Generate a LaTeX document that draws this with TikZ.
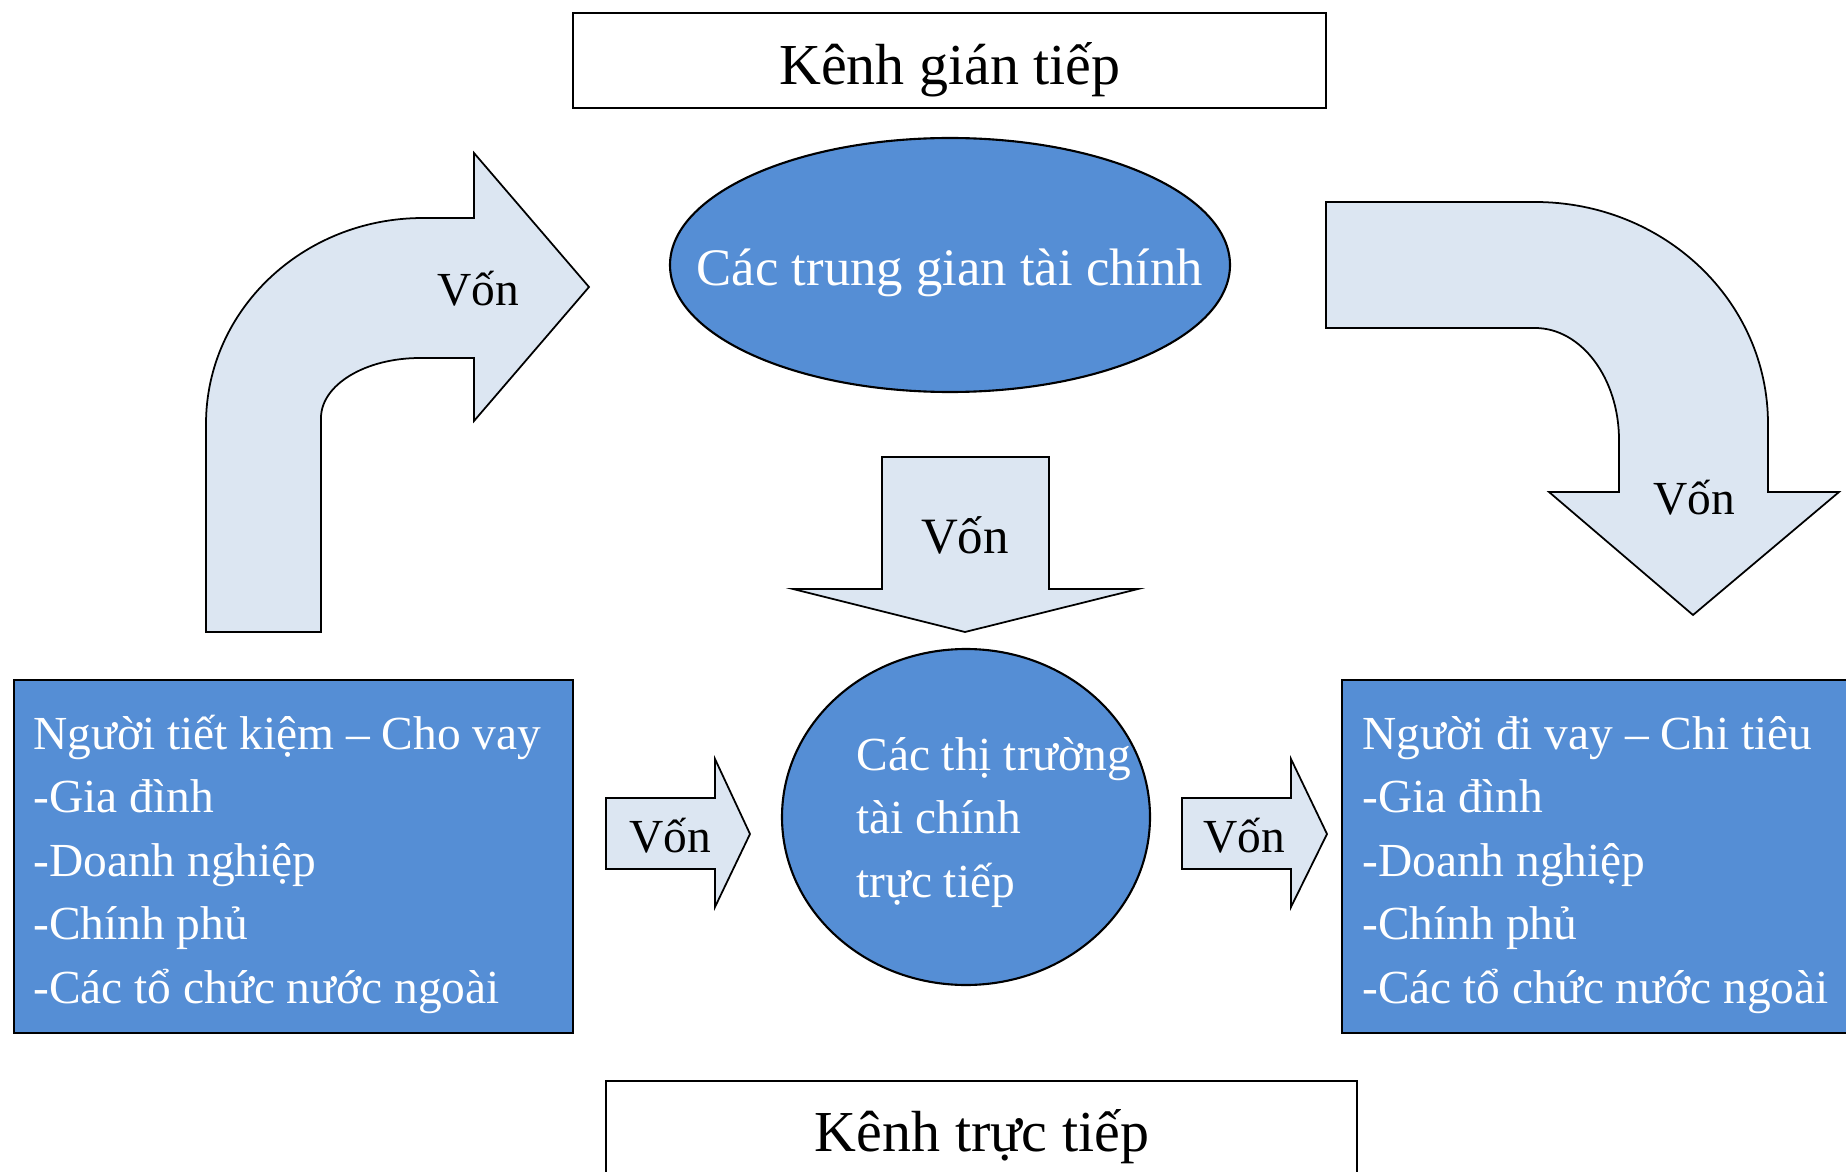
\documentclass[tikz,border=0pt]{standalone}
\usepackage{fontspec}
\setmainfont{Liberation Serif}

\definecolor{midblue}{RGB}{85,142,213}
\definecolor{paleblue}{RGB}{220,230,242}

\def\bendup{(206,632) -- (206,424) .. controls (206,310) and (303,218) .. (423,218) -- (474,218) -- (474,153) -- (589,287) -- (474,421) -- (474,358) -- (420,358) .. controls (365,358) and (321,385) .. (321,418) -- (321,632) -- cycle}
\def\benddown{(1326,202) -- (1535,202) .. controls (1664,202) and (1768,301) .. (1768,424) -- (1768,492) -- (1839,492) -- (1693,615) -- (1549,492) -- (1619,492) -- (1619,440) .. controls (1619,378) and (1581,328) .. (1535,328) -- (1326,328) -- cycle}
\def\midarrow{(882,457) -- (1049,457) -- (1049,589) -- (1138,589) -- (965,632) -- (793,589) -- (882,589) -- cycle}
\def\smallarrowA{(606,798) -- (715,798) -- (715,759) -- (750,834) -- (715,907) -- (715,869) -- (606,869) -- cycle}
\def\smallarrowB{(1182,798) -- (1291,798) -- (1291,759) -- (1327,834) -- (1291,907) -- (1291,869) -- (1182,869) -- cycle}

\tikzset{
    bluefill/.style={fill=midblue, draw=black, line width=1.2pt},
    palefill/.style={fill=paleblue, draw=black, line width=1pt},
    framebox/.style={fill=white, draw=black, line width=1.2pt},
    boxline/.style={anchor=base west, inner sep=0pt, text=white, font=\fontsize{27}{36}\selectfont},
    vonlabel/.style={anchor=base, inner sep=0pt, font=\fontsize{27}{36}\selectfont},
    channel/.style={anchor=base, inner sep=0pt, font=\fontsize{33}{40}\selectfont}
}

\begin{document}
\begin{tikzpicture}[x=0.02cm, y=-0.02cm]
    \clip (0,0) rectangle (1846,1172);
    \fill[white] (0,0) rectangle (1846,1172);

    %% The two channels
    \draw[framebox] (573,13) rectangle (1326,108);
    \draw (950,85) node[channel] (indirect) {Kênh gián tiếp};
    \draw[framebox] (606,1081) rectangle (1357,1200);
    \draw (982,1151) node[channel] (direct) {Kênh trực tiếp};

    %% Fund arrows
    \filldraw[palefill] \bendup;
    \filldraw[palefill] \benddown;
    \filldraw[palefill] \midarrow;
    \filldraw[palefill] \smallarrowA;
    \filldraw[palefill] \smallarrowB;
    \draw (478,306) node[vonlabel] (vonA) {Vốn};
    \draw (1694,514) node[vonlabel] (vonB) {Vốn};
    \draw (965,553) node[vonlabel, font=\fontsize{29}{36}\selectfont] (vonC) {Vốn};
    \draw (670,852) node[vonlabel] (vonD) {Vốn};
    \draw (1244,852) node[vonlabel] (vonE) {Vốn};

    %% Intermediaries and markets
    \draw[bluefill] (950,265) ellipse [x radius=280, y radius=127];
    \draw (950,286) node[vonlabel, text=white, font=\fontsize{30}{36}\selectfont] (interm) {Các trung gian tài chính};
    \draw[bluefill] (966,817) ellipse [x radius=184, y radius=168];
    \foreach \txt [count=\i from 0] in {Các thị trường,tài chính,trực tiếp}
        \draw (856,{770+63.5*\i}) node[boxline] (market\i) {\txt};

    %% Savers and borrowers
    \draw[bluefill] (14,680) rectangle (573,1033);
    \foreach \txt [count=\i from 0] in {Người tiết kiệm – Cho vay,-Gia đình,-Doanh nghiệp,-Chính phủ,-Các tổ chức nước ngoài}
        \draw (33,{749+63.5*\i}) node[boxline] (saver\i) {\txt};
    \draw[bluefill] (1342,680) rectangle (1870,1033);
    \foreach \txt [count=\i from 0] in {Người đi vay – Chi tiêu,-Gia đình,-Doanh nghiệp,-Chính phủ,-Các tổ chức nước ngoài}
        \draw (1362,{749+63.5*\i}) node[boxline] (borrower\i) {\txt};
\end{tikzpicture}
\end{document}
